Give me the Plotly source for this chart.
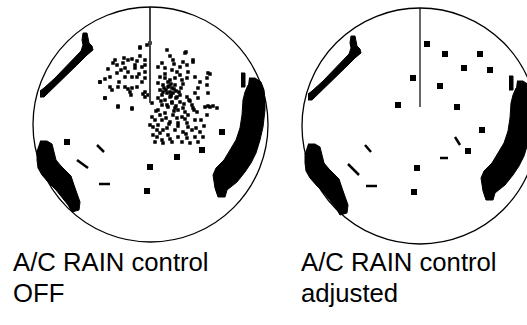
#two radar pictures side by side: A/C RAIN control off and adjusted

import plotly.graph_objects as go

#panel centres and radii (pixel coordinates, y down)
left_cx, left_cy, left_r = 150.5, 124.5, 117.5
right_cx, right_cy, right_r = 420, 126, 118
land_dx, land_dy = 268, 3

captions_left = ["A/C RAIN control", "OFF"]
captions_right = ["A/C RAIN control", "adjusted"]

#land echoes
streak_x = [40, 44, 55, 65, 75, 81, 83, 82, 83, 87, 89, 92, 93, 87, 79, 69, 59, 49, 44, 40]
streak_y = [91, 88, 78, 68, 58, 51, 45, 40, 33, 33, 43, 46, 50, 55, 63, 73, 83, 93, 97, 97]

east_x = [249, 255, 261, 264, 265, 265, 263, 260, 256, 251, 245, 237, 227, 225, 218, 215, 213, 216, 224, 230, 236, 240, 242, 243, 245, 248]
east_y = [78, 78, 82, 90, 100, 110, 127, 140, 153, 163, 172, 182, 190, 197, 197, 188, 175, 168, 160, 150, 140, 128, 115, 100, 92, 85]

spike_x = [241, 245, 245, 241]
spike_y = [73, 73, 87, 87]

west_x = [40, 47, 52, 54, 56, 61, 66, 71, 74, 78, 80, 79, 72, 68, 62, 56, 49, 42, 38, 37, 37]
west_y = [141, 141, 144, 153, 160, 166, 171, 176, 185, 195, 202, 210, 212, 205, 197, 190, 183, 175, 168, 160, 150]

#small echoes, left picture
left_tx = [150, 147, 177, 202, 222, 67]
left_ty = [167, 191, 157, 150, 132, 142]
left_seg_x = [97, 104, None, 77, 88, None, 99, 110]
left_seg_y = [145, 152, None, 160, 168, None, 184, 184]

#small echoes, right picture
right_tx = [427, 445, 480, 464, 490, 413, 440, 398, 457, 482, 468, 417, 414]
right_ty = [44, 54, 54, 68, 70, 78, 86, 105, 107, 130, 151, 168, 192]
right_seg_x = [365, 371, None, 348, 359, None, 366, 377, None, 455, 460, None, 440, 448]
right_seg_y = [145, 152, None, 164, 175, None, 186, 186, None, 137, 145, None, 158, 158]

#rain clutter (left picture only)
rain_x = [140, 147, 124, 128, 132, 137, 145, 115, 113, 117, 123, 135, 135, 142, 145, 125, 128, 117,
          110, 105, 100, 125, 132, 137, 145, 145, 142, 110, 112, 118, 125, 128, 132, 137, 130, 145,
          143, 105, 118, 132, 145, 148, 152, 155, 150, 153, 157, 153, 155,
          167, 186, 170, 173, 183, 193, 187, 180, 162, 158, 165, 172, 177, 188, 195, 208, 200, 187,
          182, 175, 170, 165, 160, 158, 163, 168, 172, 170, 167, 173, 177, 162, 158, 165, 172, 180,
          187, 195, 198, 207, 208, 198, 192, 183, 175, 168, 162, 158, 165, 173, 182, 188, 197, 205,
          208, 213, 207, 195, 187, 178, 170, 162, 158, 167, 175, 183, 192, 200, 160, 168, 178, 187,
          195, 203, 172, 182, 190, 162, 198,
          150, 140, 185, 193, 210, 207, 217, 210, 100, 105, 118, 132, 163, 157,
          166, 169, 171, 174, 168, 176, 179, 164, 172, 178, 181, 175, 170, 167, 185, 189, 160, 177,
          121, 119, 139, 131, 108, 140, 152, 156, 161, 163, 171, 176, 180, 184, 190, 194, 166, 174,
          178, 185, 169, 163, 188, 193, 201, 176, 183, 171, 165, 180, 174, 160, 196, 204, 186, 170]
rain_y = [48, 45, 58, 60, 59, 61, 60, 60, 63, 65, 63, 65, 68, 67, 65, 68, 72, 73,
          77, 79, 82, 77, 77, 77, 72, 78, 82, 87, 90, 87, 87, 89, 88, 87, 92, 92,
          94, 98, 106, 109, 97, 95, 117, 120, 125, 127, 130, 135, 142,
          50, 52, 56, 60, 62, 60, 65, 67, 63, 67, 68, 70, 72, 72, 77, 73, 82, 78,
          80, 78, 80, 78, 77, 83, 85, 87, 88, 92, 93, 93, 97, 95, 98, 100, 102, 102,
          97, 93, 88, 85, 93, 98, 105, 108, 108, 107, 105, 110, 113, 115, 117, 115, 112, 107,
          106, 106, 115, 120, 123, 123, 122, 120, 125, 128, 130, 132, 130, 132, 133, 135, 137, 138,
          137, 137, 142, 142, 143, 140, 142,
          43, 47, 53, 62, 74, 78, 108, 107, 82, 98, 107, 108, 143, 137,
          90, 86, 95, 89, 82, 98, 92, 88, 103, 110, 88, 85, 97, 105, 112, 100, 115, 118,
          70, 82, 74, 95, 69, 56, 103, 111, 101, 92, 96, 91, 95, 104, 101, 110, 118, 111,
          126, 119, 124, 130, 127, 108, 120, 106, 84, 84, 74, 75, 64, 90, 128, 126, 134, 139]

fig = go.Figure()

def land(xs, ys, dx=0, dy=0):
    fig.add_trace(go.Scatter(x=[v + dx for v in xs], y=[v + dy for v in ys], mode="lines",
                             fill="toself", fillcolor="black", line=dict(color="black", width=1),
                             hoverinfo="skip"))

for dx, dy in [(0, 0), (land_dx, land_dy)]:
    land(streak_x, streak_y, dx, dy)
    land(east_x, east_y, dx, dy)
    land(spike_x, spike_y, dx, dy)
    land(west_x, west_y, dx, dy)

fig.add_trace(go.Scatter(x=rain_x, y=rain_y, mode="markers",
                         marker=dict(symbol="square", size=3.5, color="black", line=dict(width=0))))

fig.add_trace(go.Scatter(x=left_tx, y=left_ty, mode="markers",
                         marker=dict(symbol="square", size=6, color="black", line=dict(width=0))))
fig.add_trace(go.Scatter(x=right_tx, y=right_ty, mode="markers",
                         marker=dict(symbol="square", size=6, color="black", line=dict(width=0))))
fig.add_trace(go.Scatter(x=left_seg_x, y=left_seg_y, mode="lines", line=dict(color="black", width=2.5)))
fig.add_trace(go.Scatter(x=right_seg_x, y=right_seg_y, mode="lines", line=dict(color="black", width=2.5)))

#heading lines
fig.add_trace(go.Scatter(x=[150, 150], y=[left_cy - left_r, 103], mode="lines",
                         line=dict(color="#444444", width=2)))
fig.add_trace(go.Scatter(x=[420, 420], y=[right_cy - right_r, 107], mode="lines",
                         line=dict(color="black", width=1.2)))

for cx, cy, r in [(left_cx, left_cy, left_r), (right_cx, right_cy, right_r)]:
    fig.add_shape(type="circle", xref="x", yref="y", x0=cx - r, x1=cx + r, y0=cy - r, y1=cy + r,
                  line=dict(color="black", width=1.3))

for x0, lines in [(11, captions_left), (299, captions_right)]:
    for i, t in enumerate(lines):
        fig.add_annotation(x=x0, y=262 + 31 * i, xref="x", yref="y", text=t, showarrow=False,
                           xanchor="left", yanchor="middle",
                           font=dict(family="Liberation Sans, Arial", size=25.7, color="black"))

fig.update_layout(width=527, height=325, margin=dict(l=0, r=0, t=0, b=0),
                  paper_bgcolor="white", plot_bgcolor="white", showlegend=False,
                  xaxis=dict(range=[0, 527], visible=False, fixedrange=True),
                  yaxis=dict(range=[325, 0], visible=False, fixedrange=True))

fig.write_html("out.html", config={"displayModeBar": False},
               post_script="document.body.style.margin='0';document.body.style.overflow='hidden';")
